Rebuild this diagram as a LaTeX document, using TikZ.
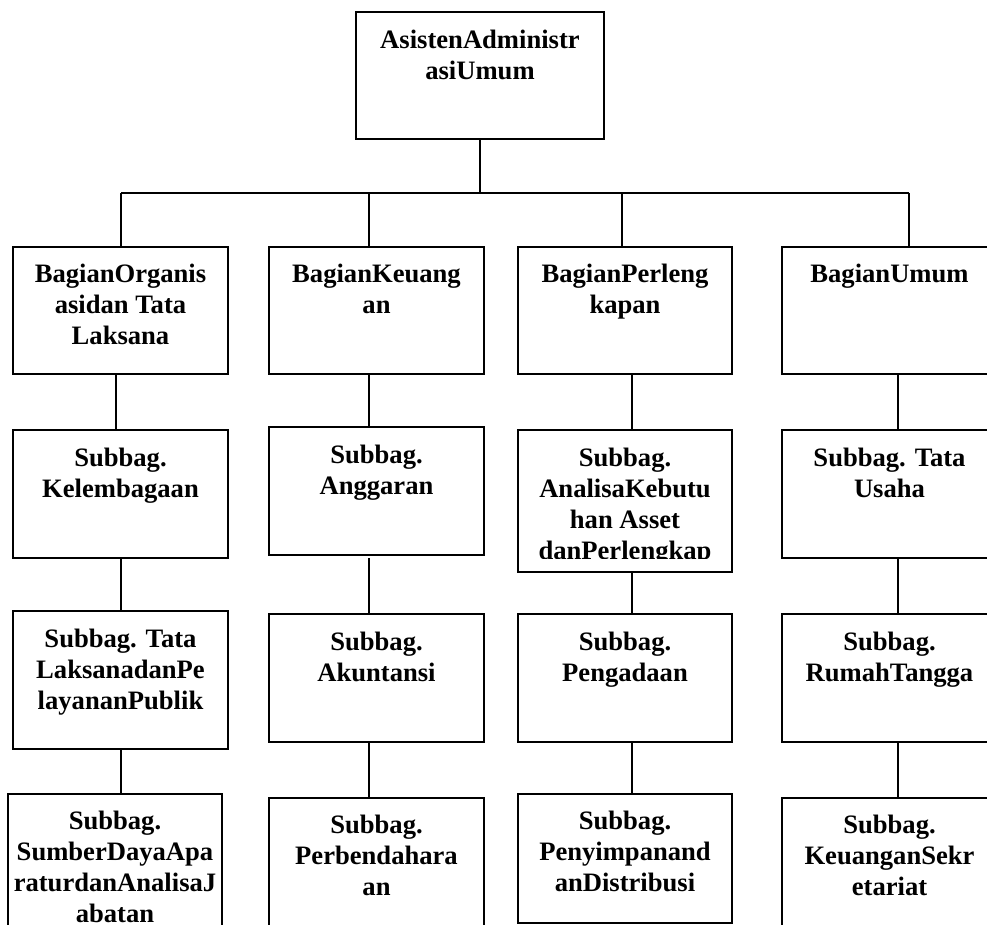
\documentclass[tikz,border=0pt]{standalone}
\usepackage{fontspec}
\setmainfont{Liberation Serif}
\begin{document}
\begin{tikzpicture}[x=1pt,y=-1pt,
  box/.style={draw=black,line width=1.3pt,rectangle,inner sep=0pt,outer sep=0pt,anchor=north west},
  txt/.style={font=\fontsize{26.6}{31}\selectfont\bfseries,align=center,inner sep=0pt,anchor=north},
  conn/.style={draw=black,line width=1.3pt}]
\useasboundingbox (0,0) rectangle (987,925);
\clip (0,0) rectangle (987,925);
% boxes
\node[box,minimum width=248pt,minimum height=127pt] (top) at (356,12) {};
\node[box,minimum width=215pt,minimum height=127pt] (b1) at (13,247) {};
\node[box,minimum width=215pt,minimum height=127pt] (b2) at (269,247) {};
\node[box,minimum width=214pt,minimum height=127pt] (b3) at (518,247) {};
\node[box,minimum width=215pt,minimum height=127pt] (b4) at (782,247) {};
\node[box,minimum width=215pt,minimum height=128pt] (c1) at (13,430) {};
\node[box,minimum width=215pt,minimum height=128pt] (c2) at (269,427) {};
\node[box,minimum width=214pt,minimum height=142pt] (c3) at (518,430) {};
\node[box,minimum width=215pt,minimum height=128pt] (c4) at (782,430) {};
\node[box,minimum width=215pt,minimum height=138pt] (d1) at (13,611) {};
\node[box,minimum width=215pt,minimum height=128pt] (d2) at (269,614) {};
\node[box,minimum width=214pt,minimum height=128pt] (d3) at (518,614) {};
\node[box,minimum width=215pt,minimum height=128pt] (d4) at (782,614) {};
\node[box,minimum width=214pt,minimum height=150pt] (e1) at (8,794) {};
\node[box,minimum width=215pt,minimum height=150pt] (e2) at (269,798) {};
\node[box,minimum width=214pt,minimum height=129pt] (e3) at (518,794) {};
\node[box,minimum width=215pt,minimum height=150pt] (e4) at (782,798) {};
% texts
\node[txt] (ttop) at ([yshift=-18pt]top.north) {AsistenAdministr\\asiUmum};
\node[txt] (tb1) at ([yshift=-17pt]b1.north) {BagianOrganis\\asidan Tata\\Laksana};
\node[txt] (tb2) at ([yshift=-17pt]b2.north) {BagianKeuang\\an};
\node[txt] (tb3) at ([yshift=-17pt]b3.north) {BagianPerleng\\kapan};
\node[txt] (tb4) at ([yshift=-17pt]b4.north) {BagianUmum};
\node[txt] (tc1) at ([yshift=-18pt]c1.north) {Subbag.\\Kelembagaan};
\node[txt] (tc2) at ([yshift=-18pt]c2.north) {Subbag.\\Anggaran};
\begin{scope}
\clip (518,430) rectangle (732,558);
\node[txt] (tc3) at ([yshift=-18pt]c3.north) {Subbag.\\AnalisaKebutu\\han Asset\\danPerlengkap};
\end{scope}
\node[txt] (tc4) at ([yshift=-18pt]c4.north) {Subbag. Tata\\Usaha};
\node[txt] (td1) at ([yshift=-18pt]d1.north) {Subbag. Tata\\LaksanadanPe\\layananPublik};
\node[txt] (td2) at ([yshift=-18pt]d2.north) {Subbag.\\Akuntansi};
\node[txt] (td3) at ([yshift=-18pt]d3.north) {Subbag.\\Pengadaan};
\node[txt] (td4) at ([yshift=-18pt]d4.north) {Subbag.\\RumahTangga};
\node[txt] (te1) at ([yshift=-17pt]e1.north) {Subbag.\\SumberDayaApa\\raturdanAnalisaJ\\abatan};
\node[txt] (te2) at ([yshift=-17pt]e2.north) {Subbag.\\Perbendahara\\an};
\node[txt] (te3) at ([yshift=-17pt]e3.north) {Subbag.\\Penyimpanand\\anDistribusi};
\node[txt] (te4) at ([yshift=-17pt]e4.north) {Subbag.\\KeuanganSekr\\etariat};
% tree connectors
\coordinate (bar) at (0,193);
\coordinate (j1) at (121,193);
\coordinate (j2) at (369,193);
\coordinate (j3) at (622,193);
\coordinate (j4) at (909,193);
\draw[conn] (top.south) -- (top.south |- bar);
\draw[conn] (j1) -- (j4);
\draw[conn] (j1) -- (j1 |- b1.north);
\draw[conn] (j2) -- (j2 |- b2.north);
\draw[conn] (j3) -- (j3 |- b3.north);
\draw[conn] (j4) -- (j4 |- b4.north);
% column connectors
\draw[conn] ([xshift=-4.5pt]b1.south) coordinate (k1) -- (k1 |- c1.north);
\draw[conn] ([xshift=-7.5pt]b2.south) coordinate (k2) -- (k2 |- c2.north);
\draw[conn] ([xshift=7pt]b3.south) coordinate (k3) -- (k3 |- c3.north);
\draw[conn] ([xshift=8.5pt]b4.south) coordinate (k4) -- (k4 |- c4.north);
\draw[conn] ([xshift=0.5pt]c1.south) coordinate (m1) -- (m1 |- d1.north);
\draw[conn] ([shift={(-7.5pt,-3pt)}]c2.south) coordinate (m2) -- (m2 |- d2.north);
\draw[conn] ([xshift=7pt]c3.south) coordinate (m3) -- (m3 |- d3.north);
\draw[conn] ([xshift=8.5pt]c4.south) coordinate (m4) -- (m4 |- d4.north);
\draw[conn] ([xshift=0.5pt]d1.south) coordinate (n1) -- (n1 |- e1.north);
\draw[conn] ([xshift=-7.5pt]d2.south) coordinate (n2) -- (n2 |- e2.north);
\draw[conn] ([xshift=7pt]d3.south) coordinate (n3) -- (n3 |- e3.north);
\draw[conn] ([xshift=8.5pt]d4.south) coordinate (n4) -- (n4 |- e4.north);
\end{tikzpicture}
\end{document}
